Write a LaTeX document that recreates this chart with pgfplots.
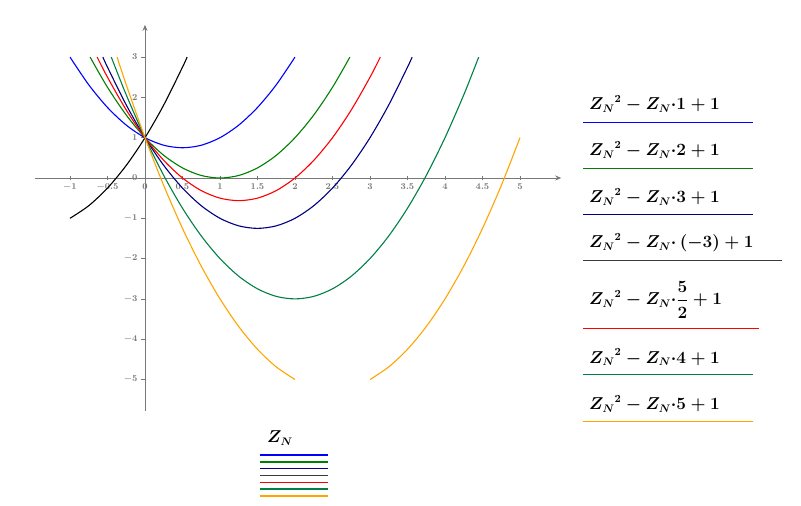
\documentclass[border=0pt]{standalone}
\usepackage{amsmath}
\usepackage{pgfplots}
\pgfplotsset{compat=1.18}
\usetikzlibrary{arrows.meta}
\definecolor{cBlue}{RGB}{0,0,255}
\definecolor{cGreen}{RGB}{0,128,0}
\definecolor{cNavy}{RGB}{0,0,128}
\definecolor{cBlack}{RGB}{0,0,0}
\definecolor{cLegBlack}{RGB}{60,60,60}
\definecolor{cRed}{RGB}{255,0,0}
\definecolor{cTeal}{RGB}{0,128,70}
\definecolor{cOrange}{RGB}{255,165,0}
\definecolor{axgray}{RGB}{120,120,120}
\begin{document}
\begin{tikzpicture}
\path[use as bounding box] (0,0) rectangle (801bp,506bp);
\begin{axis}[
  at={(145bp,328bp)}, anchor=origin,
  x=75bp, y=40.3bp,
  xmin=-1.47, xmax=5.55, ymin=-5.77, ymax=3.8,
  axis lines=middle,
  axis line style={draw=axgray, line width=0.8bp, -{Stealth[length=6bp,width=5bp]}},
  xtick={-1,-0.5,0,0.5,1,1.5,2,2.5,3,3.5,4,4.5,5},
  ytick={-5,-4,-3,-2,-1,0,1,2,3},
  hide obscured x ticks=false, hide obscured y ticks=false,
  tick style={draw=axgray, line width=0.6bp},
  major tick length=4bp,
  xtick align=center, ytick align=outside,
  every tick label/.append style={font=\fontsize{9.5}{11}\selectfont\boldmath, text=axgray},
  xticklabel style={/pgf/number format/fixed},
  clip=false,
  every axis plot/.append style={line width=1.1bp, smooth},
]
% a = 1
\addplot[cBlue] coordinates {(-1,3) (-0.75,2.3125) (-0.5,1.75) (-0.25,1.3125) (0,1) (0.25,0.8125) (0.5,0.75) (0.75,0.8125) (1,1) (1.25,1.3125) (1.5,1.75) (1.75,2.3125) (2,3)};
% a = 2
\addplot[cGreen] coordinates {(-0.732,3) (-0.5,2.25) (-0.25,1.5625) (0,1) (0.25,0.5625) (0.5,0.25) (0.75,0.0625) (1,0) (1.25,0.0625) (1.5,0.25) (1.75,0.5625) (2,1) (2.25,1.5625) (2.5,2.25) (2.732,3)};
% a = 3
\addplot[cNavy] coordinates {(-0.5616,3) (-0.5,2.75) (-0.25,1.8125) (0,1) (0.25,0.3125) (0.5,-0.25) (0.75,-0.6875) (1,-1) (1.25,-1.1875) (1.5,-1.25) (1.75,-1.1875) (2,-1) (2.25,-0.6875) (2.5,-0.25) (2.75,0.3125) (3,1) (3.25,1.8125) (3.5,2.75) (3.5616,3)};
% a = -3
\addplot[cBlack] coordinates {(-1,-1) (-0.75,-0.6875) (-0.5,-0.25) (-0.25,0.3125) (0,1) (0.25,1.8125) (0.5,2.75) (0.5616,3)};
% a = 5/2
\addplot[cRed] coordinates {(-0.6375,3) (-0.5,2.5) (-0.25,1.6875) (0,1) (0.25,0.4375) (0.5,0) (0.75,-0.3125) (1,-0.5) (1.25,-0.5625) (1.5,-0.5) (1.75,-0.3125) (2,0) (2.25,0.4375) (2.5,1) (2.75,1.6875) (3,2.5) (3.1375,3)};
% a = 4
\addplot[cTeal] coordinates {(-0.4495,3) (-0.25,2.0625) (0,1) (0.25,0.0625) (0.5,-0.75) (0.75,-1.4375) (1,-2) (1.25,-2.4375) (1.5,-2.75) (1.75,-2.9375) (2,-3) (2.25,-2.9375) (2.5,-2.75) (2.75,-2.4375) (3,-2) (3.25,-1.4375) (3.5,-0.75) (3.75,0.0625) (4,1) (4.25,2.0625) (4.4495,3)};
% a = 5 (two branches, y >= -5)
\addplot[cOrange] coordinates {(-0.3723,3) (-0.25,2.3125) (0,1) (0.25,-0.1875) (0.5,-1.25) (0.75,-2.1875) (1,-3) (1.25,-3.6875) (1.5,-4.25) (1.75,-4.6875) (2,-5)};
\addplot[cOrange] coordinates {(3,-5) (3.25,-4.6875) (3.5,-4.25) (3.75,-3.6875) (4,-3) (4.25,-2.1875) (4.5,-1.25) (4.75,-0.1875) (5,1)};
\end{axis}
% right-hand legend
\begin{scope}[every node/.style={anchor=base west, inner sep=0pt, font=\boldmath\fontsize{16}{18}\selectfont}]
\node at (589bp,396bp) {${Z_N}^{2}-Z_N{\cdot}1+1$};
\draw[cBlue, line width=1.3bp] (583bp,383.5bp) -- (753bp,383.5bp);
\node at (589bp,350bp) {${Z_N}^{2}-Z_N{\cdot}2+1$};
\draw[cGreen, line width=1.3bp] (583bp,337.5bp) -- (753bp,337.5bp);
\node at (589bp,303.3bp) {${Z_N}^{2}-Z_N{\cdot}3+1$};
\draw[cNavy, line width=1.3bp] (583bp,291.5bp) -- (753bp,291.5bp);
\node at (589bp,258bp) {${Z_N}^{2}-Z_N{\cdot}\left(-3\right)+1$};
\draw[cLegBlack, line width=1.3bp] (583bp,245.5bp) -- (782bp,245.5bp);
\node at (589bp,201bp) {${Z_N}^{2}-Z_N{\cdot}\dfrac{5}{2}+1$};
\draw[cRed, line width=1.3bp] (583bp,177.5bp) -- (759bp,177.5bp);
\node at (589bp,142.7bp) {${Z_N}^{2}-Z_N{\cdot}4+1$};
\draw[cTeal, line width=1.3bp] (583bp,131.5bp) -- (753bp,131.5bp);
\node at (589bp,96bp) {${Z_N}^{2}-Z_N{\cdot}5+1$};
\draw[cOrange, line width=1.3bp] (583bp,84.5bp) -- (753bp,84.5bp);
% bottom legend
\node at (267bp,63.3bp) {$Z_N$};
\end{scope}
\draw[cBlue, line width=1.1bp] (260bp,51bp) -- (328bp,51bp);
\draw[cGreen, line width=1.1bp] (260bp,44bp) -- (328bp,44bp);
\draw[cNavy, line width=1.1bp] (260bp,37.3bp) -- (328bp,37.3bp);
\draw[cLegBlack, line width=1.1bp] (260bp,30.3bp) -- (328bp,30.3bp);
\draw[cRed, line width=1.1bp] (260bp,23.7bp) -- (328bp,23.7bp);
\draw[cTeal, line width=1.1bp] (260bp,17bp) -- (328bp,17bp);
\draw[cOrange, line width=1.1bp] (260bp,10bp) -- (328bp,10bp);
\end{tikzpicture}
\end{document}
